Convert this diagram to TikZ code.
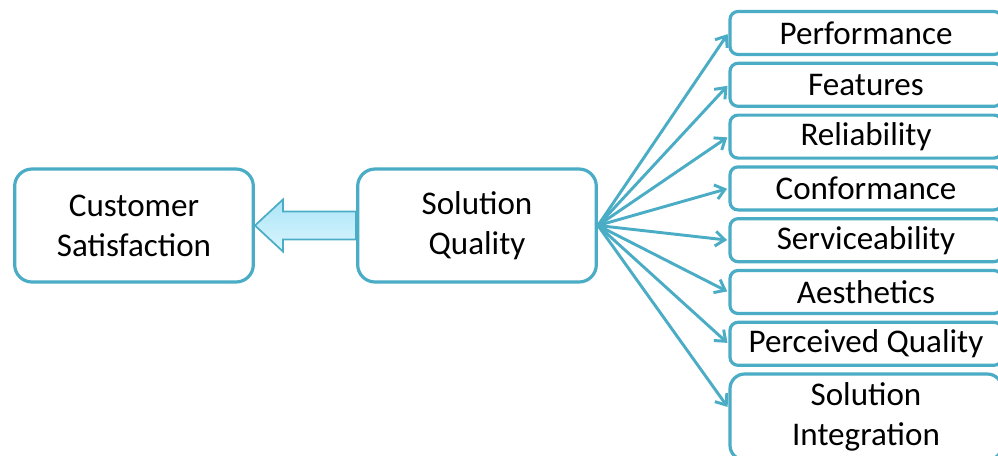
\documentclass[tikz,border=0pt]{standalone}
\usepackage{fontspec}
\setmainfont{Carlito}
\usetikzlibrary{arrows.meta,positioning,calc}

\definecolor{boxline}{RGB}{75,172,198}
\definecolor{arrowtop}{RGB}{172,229,248}
\definecolor{arrowbot}{RGB}{218,245,253}

\begin{document}
\begin{tikzpicture}[x=0.75pt,y=-0.75pt,font=\fontsize{24.8}{30}\selectfont,
  bigbox/.style={draw=boxline,line width=2.4pt,rounded corners=13pt,fill=white,align=center,
    minimum width=179pt,minimum height=84.75pt,inner sep=0pt},
  factor/.style={draw=boxline,line width=2.4pt,rounded corners=6pt,fill=white,
    minimum width=204pt,minimum height=32.25pt,inner sep=0pt},
  link/.style={draw=boxline,line width=2.2pt,shorten >=1pt,-{Straight Barb[length=7pt,width=11pt]}}]
\useasboundingbox (0,0) rectangle (998,455);
\clip (0,0) rectangle (998,455);

\node[bigbox] (cs) at (134,225.5) {Customer\\Satisfaction};
\node[bigbox] (sq) at (477,225.5) {Solution\\Quality};

% wide arrow back to satisfaction
\draw[draw=boxline,line width=1.3pt,top color=arrowtop,bottom color=arrowbot]
  ($(sq.west)+(0,-14)$) -- ($(cs.east)+(28,-14)$) -- ($(cs.east)+(28,-26)$) -- (cs.east)
  -- ($(cs.east)+(28,26)$) -- ($(cs.east)+(28,14)$) -- ($(sq.west)+(0,14)$) -- cycle;

% quality dimensions
\foreach \row/\lab in {0/Performance,1/Features,2/Reliability,3/Conformance,
  4/Serviceability,5/Aesthetics,6/Perceived Quality}{
  \node[factor] (f\row) at (866,33+51.8*\row) {\lab};
  \draw[link] (sq.east) -- (f\row.west);
}
\node[factor,align=center,minimum height=64.5pt,rounded corners=11pt] (f7) at (866,417) {Solution\\Integration};
\draw[link] (sq.east) -- ([yshift=6.75pt]f7.west);
\end{tikzpicture}
\end{document}
